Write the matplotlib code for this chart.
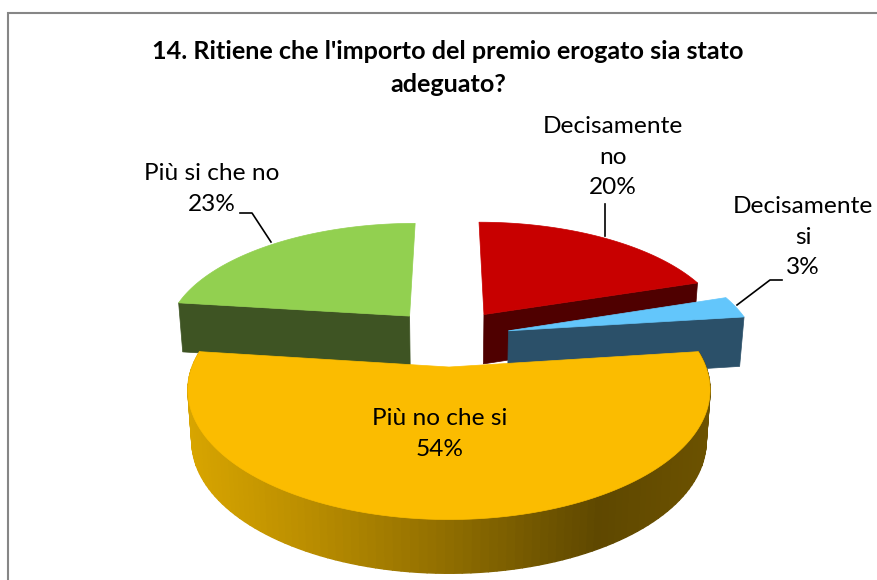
import numpy as np
import matplotlib
matplotlib.use("Agg")
import matplotlib.pyplot as plt
from matplotlib.collections import PolyCollection
from matplotlib.colors import to_rgb

# ==========================================
# DATA
# ==========================================

categories = ["Decisamente\nno", "Decisamente\nsi", "Più no che si", "Più si che no"]
percent = [20, 3, 54, 23]

title = "14. Ritiene che l'importo del premio erogato sia stato\nadeguato?"

top_colors = ["#C80000", "#63C6FB", "#FBBC00", "#92D050"]
wall_colors = ["#4F0000", "#2B5069", None, "#3E5423"]

# ==========================================
# 3D PIE GEOMETRY (pixel space)
# ==========================================

CX, CY = 449, 337
RX, RY = 246, 115
PERSP = 0.17
EXPLODE = 0.25


def project(x, y):
    w = 1 + PERSP * y
    return CX + RX * x / w, CY - RY * y / w


def bottom(px, py, y):
    depth = 50 - 3 * y
    return CX + (px - CX) * 0.985, py + depth


values = np.array(percent, dtype=float)
edges = np.concatenate([[0], np.cumsum(values)]) / values.sum() * 2 * np.pi


def slice_parts(i):
    t = np.linspace(edges[i], edges[i + 1], 120)
    mid = (edges[i] + edges[i + 1]) / 2
    ox, oy = EXPLODE * np.sin(mid), EXPLODE * np.cos(mid)
    return t, ox, oy


def top_outline(i):
    t, ox, oy = slice_parts(i)
    x = np.concatenate([[ox], ox + np.sin(t)])
    y = np.concatenate([[oy], oy + np.cos(t)])
    return x, y


# ==========================================
# PLOT
# ==========================================

fig = plt.figure(figsize=(8.77, 5.8), dpi=100)
ax = fig.add_axes([0, 0, 1, 1])
ax.set_xlim(0, 877)
ax.set_ylim(580, 0)
ax.axis("off")

plt.rcParams["font.family"] = ["Lato", "DejaVu Sans"]

ax.plot([8, 8, 877], [580, 12.5, 12.5], color="#868686", lw=1.5, solid_joinstyle="miter")


def draw_flat_slice(i, end, z):
    t, ox, oy = slice_parts(i)
    # radial wall facing the viewer, from the apex to the outer corner
    rx = np.linspace(ox, ox + np.sin(end), 30)
    ry = np.linspace(oy, oy + np.cos(end), 30)
    px, py = project(rx, ry)
    bx, by = bottom(px, py, ry)
    ax.fill(np.concatenate([px, bx[::-1]]), np.concatenate([py, by[::-1]]),
            color=wall_colors[i], lw=0.5, zorder=z)
    # top face
    x, y = top_outline(i)
    px, py = project(x, y)
    ax.fill(px, py, color=top_colors[i], lw=0.5, zorder=z + 0.5)


draw_flat_slice(0, edges[1], 2)
draw_flat_slice(3, edges[3], 2)
draw_flat_slice(1, edges[2], 3)

# orange wall with the horizontal shading
t, ox, oy = slice_parts(2)
ex, ey = ox + np.sin(t), oy + np.cos(t)
px, py = project(ex, ey)
bx, by = bottom(px, py, ey)

stops_x = [187, 300, 450, 560, 600, 710]
stops_c = ["#D8A500", "#BC8F00", "#8F6D00", "#6A5100", "#5F4800", "#6C5200"]
stops_rgb = np.array([to_rgb(c) for c in stops_c])

polys = []
cols = []
for k in range(len(t) - 1):
    polys.append([(px[k], py[k]), (px[k + 1], py[k + 1]), (bx[k + 1], by[k + 1]), (bx[k], by[k])])
    xm = (px[k] + px[k + 1]) / 2
    cols.append([np.interp(xm, stops_x, stops_rgb[:, c]) for c in range(3)])

ax.add_collection(PolyCollection(polys, facecolors=cols, edgecolors=cols, linewidths=1.0, zorder=4))

x, y = top_outline(2)
px, py = project(x, y)
ax.fill(px, py, color=top_colors[2], lw=0.5, zorder=5)

# ==========================================
# TEXT
# ==========================================

ax.text(448, 68, title, ha="center", va="center", fontsize=18.1, fontweight="bold",
        linespacing=1.56, color="black", zorder=10)

labels = [f"{c}\n{p}%" for c, p in zip(categories, percent)]
label_xy = [(613, 157), (803, 237), (440, 434), (212, 189)]

for txt, (lx, ly) in zip(labels, label_xy):
    ax.text(lx, ly, txt, ha="center", va="center", fontsize=17.6, linespacing=1.55,
            color="black", zorder=10)

# leader lines
ax.plot([605, 605], [204, 236], color="black", lw=1.2, zorder=9)
ax.plot([737, 770, 782], [305, 280, 280], color="black", lw=1.2, zorder=9)
ax.plot([240, 252, 271], [213, 213, 242], color="black", lw=1.2, zorder=9)

plt.savefig("out.png", dpi=100)
